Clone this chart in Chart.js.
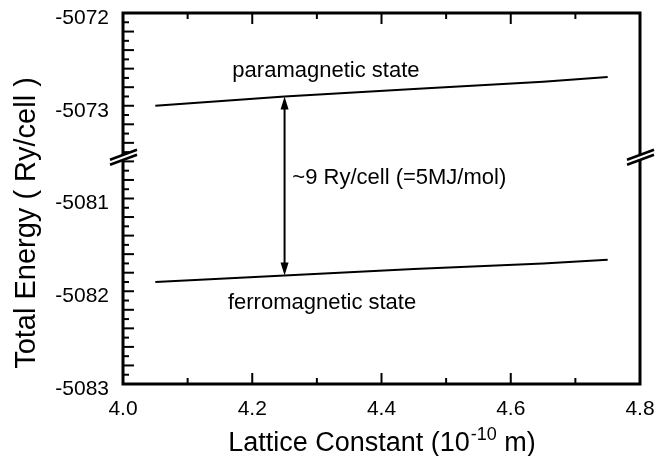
<!DOCTYPE html>
<html>
<head>
<meta charset="utf-8">
<script src="https://cdn.jsdelivr.net/npm/chart.js@4.4.0/dist/chart.umd.min.js"></script>
<style>
html, body { margin: 0; padding: 0; background: #fff; }
</style>
</head>
<body>
<canvas id="energyChart" width="669" height="456"></canvas>
<script>
// lattice constant (10^-10 m) where energies were read
const latticeConst = [4.05, 4.25, 4.45, 4.65, 4.75];
// total energy (Ry/cell)
const paraEnergy = [-5073.00, -5072.90, -5072.82, -5072.74, -5072.69];
const ferroEnergy = [-5081.90, -5081.83, -5081.76, -5081.70, -5081.66];

const xRange = [4.0, 4.8];
const topRange = [-5073.55, -5072];
const bottomRange = [-5083, -5080.55];

const arrowAt = 4.25;
const gapLabel = "~9 Ry/cell (=5MJ/mol)";
const paraLabel = "paramagnetic state";
const ferroLabel = "ferromagnetic state";

const FONT = '"Liberation Sans", Arial, sans-serif';

function evenTenth(v) {
    return Math.round(v * 10) % 2 === 0;
}

function line(ctx, x1, y1, x2, y2) {
    ctx.beginPath();
    ctx.moveTo(x1, y1);
    ctx.lineTo(x2, y2);
    ctx.stroke();
}

function drawBreak(ctx, x, y) {
    // two slanted strokes with white between them
    ctx.fillStyle = "#fff";
    ctx.beginPath();
    ctx.moveTo(x - 13, y + 3);
    ctx.lineTo(x + 14, y - 7);
    ctx.lineTo(x + 14, y - 2);
    ctx.lineTo(x - 13, y + 8);
    ctx.closePath();
    ctx.fill();
    ctx.lineWidth = 2.5;
    line(ctx, x - 13, y + 3, x + 14, y - 7);
    line(ctx, x - 13, y + 8, x + 14, y - 2);
}

function arrowHead(ctx, x, y, dir) {
    ctx.beginPath();
    ctx.moveTo(x, y);
    ctx.lineTo(x - 4, y + dir * 13);
    ctx.lineTo(x + 4, y + dir * 13);
    ctx.closePath();
    ctx.fill();
}

const framePlugin = {
    id: "frame",
    afterDraw(chart) {
        const ctx = chart.ctx;
        const a = chart.chartArea;
        const x = chart.scales.x;
        const yT = chart.scales.yTop;
        const yB = chart.scales.yBot;
        ctx.save();
        ctx.strokeStyle = "#000";
        ctx.fillStyle = "#000";

        // inward tick marks
        ctx.lineWidth = 2;
        [yT, yB].forEach(function(s) {
            s.ticks.forEach(function(t) {
                const py = s.getPixelForValue(t.value);
                const len = evenTenth(t.value) ? 11 : 6;
                line(ctx, a.left, py, a.left + len, py);
            });
        });
        x.ticks.forEach(function(t) {
            const px = x.getPixelForValue(t.value);
            const len = evenTenth(t.value) ? 11 : 6;
            line(ctx, px, a.bottom, px, a.bottom - len);
            line(ctx, px, a.top, px, a.top + len);
        });

        // frame
        ctx.lineWidth = 3;
        ctx.strokeRect(a.left, a.top, a.right - a.left, a.bottom - a.top);

        // axis breaks
        drawBreak(ctx, a.left, yT.bottom);
        drawBreak(ctx, a.right, yT.bottom);

        // energy gap arrow
        const i = latticeConst.indexOf(arrowAt);
        const ax = x.getPixelForValue(arrowAt);
        const ay1 = yT.getPixelForValue(paraEnergy[i]);
        const ay2 = yB.getPixelForValue(ferroEnergy[i]);
        ctx.fillStyle = "#000";
        ctx.lineWidth = 2;
        line(ctx, ax, ay1 + 6, ax, ay2 - 6);
        arrowHead(ctx, ax, ay1, 1);
        arrowHead(ctx, ax, ay2, -1);

        // annotations
        ctx.font = "22px " + FONT;
        ctx.textBaseline = "middle";
        ctx.textAlign = "center";
        ctx.fillText(paraLabel, x.getPixelForValue(4.314), yT.getPixelForValue(-5072.63));
        ctx.fillText(ferroLabel, x.getPixelForValue(4.308), yB.getPixelForValue(-5082.13));
        ctx.textAlign = "left";
        ctx.fillText(gapLabel, x.getPixelForValue(4.262), yB.getPixelForValue(-5080.78));

        // y axis title
        ctx.save();
        ctx.translate(27, 223);
        ctx.rotate(-Math.PI / 2);
        ctx.font = "29px " + FONT;
        ctx.textAlign = "center";
        ctx.fillText("Total Energy ( Ry/cell )", 0, 0);
        ctx.restore();

        // x axis title with superscript
        const main = "Lattice Constant (10";
        const sup = "-10";
        const tail = " m)";
        ctx.textBaseline = "alphabetic";
        ctx.textAlign = "left";
        ctx.font = "27px " + FONT;
        const w1 = ctx.measureText(main).width;
        const w3 = ctx.measureText(tail).width;
        ctx.font = "18px " + FONT;
        const w2 = ctx.measureText(sup).width;
        let tx = (a.left + a.right) / 2 - (w1 + w2 + w3) / 2;
        const base = 451;
        ctx.font = "27px " + FONT;
        ctx.fillText(main, tx, base);
        ctx.font = "18px " + FONT;
        ctx.fillText(sup, tx + w1 + 1, base - 11);
        ctx.font = "27px " + FONT;
        ctx.fillText(tail, tx + w1 + w2 + 1, base);
        ctx.restore();
    }
};

function yScale(range, weight) {
    return {
        type: "linear",
        position: "left",
        stack: "energy",
        stackWeight: weight,
        min: range[0],
        max: range[1],
        grid: { display: false, drawTicks: false },
        border: { display: false },
        ticks: {
            stepSize: 0.1,
            includeBounds: false,
            autoSkip: false,
            padding: 14,
            labelOffset: 5,
            color: "#000",
            font: { family: FONT, size: 21 },
            callback: function(v) {
                return Math.abs(v - Math.round(v)) < 1e-6 ? String(Math.round(v)) : "";
            }
        },
        afterFit: function(scale) {
            scale.width = 123;
            scale.paddingTop = 0;
            scale.paddingBottom = 0;
        }
    };
}

new Chart(document.getElementById("energyChart"), {
    type: "line",
    data: {
        datasets: [
            {
                label: paraLabel,
                data: latticeConst.map((v, i) => ({ x: v, y: paraEnergy[i] })),
                yAxisID: "yTop",
                borderColor: "#000",
                borderWidth: 2,
                pointRadius: 0,
                tension: 0
            },
            {
                label: ferroLabel,
                data: latticeConst.map((v, i) => ({ x: v, y: ferroEnergy[i] })),
                yAxisID: "yBot",
                borderColor: "#000",
                borderWidth: 2,
                pointRadius: 0,
                tension: 0
            }
        ]
    },
    options: {
        responsive: false,
        animation: false,
        devicePixelRatio: 1,
        layout: { padding: { top: 13, right: 29, left: 0, bottom: 0 } },
        plugins: {
            legend: { display: false },
            tooltip: { enabled: false }
        },
        scales: {
            x: {
                type: "linear",
                min: xRange[0],
                max: xRange[1],
                grid: { display: false, drawTicks: false },
                border: { display: false },
                ticks: {
                    stepSize: 0.1,
                    autoSkip: false,
                    maxRotation: 0,
                    padding: 13,
                    color: "#000",
                    font: { family: FONT, size: 21 },
                    callback: function(v) {
                        return evenTenth(v) ? v.toFixed(1) : "";
                    }
                },
                afterFit: function(scale) {
                    scale.height = 72;
                    scale.paddingLeft = 0;
                    scale.paddingRight = 0;
                }
            },
            yBot: yScale(bottomRange, 2.45),
            yTop: yScale(topRange, 1.55)
        }
    },
    plugins: [framePlugin]
});
</script>
</body>
</html>
